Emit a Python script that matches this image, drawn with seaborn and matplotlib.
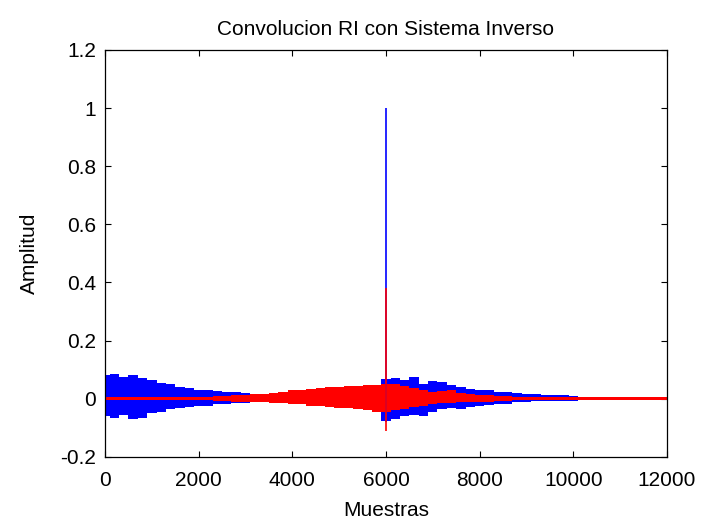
import numpy as np
import matplotlib
matplotlib.use("Agg")
import matplotlib.pyplot as plt
import seaborn as sns

# envelope of each signal, read every 200 samples (0 .. 12000)
samples = np.arange(0, 12001, 200)

blue_hi = [0.080, 0.085, 0.075, 0.080, 0.070, 0.065, 0.055, 0.050, 0.040, 0.038,
           0.030, 0.028, 0.026, 0.024, 0.022, 0.020, 0.016, 0.015, 0.018, 0.012,
           0.014, 0.012, 0.013, 0.012, 0.014, 0.012, 0.013, 0.014, 0.015, 0.020,
           0.068, 0.070, 0.065, 0.076, 0.050, 0.060, 0.058, 0.047, 0.040, 0.033,
           0.030, 0.028, 0.024, 0.024, 0.020, 0.016, 0.015, 0.012, 0.012, 0.011,
           0.010, 0.005, 0.004, 0.004, 0.003, 0.003, 0.003, 0.003, 0.003, 0.003,
           0.003]
blue_lo = [-0.060, -0.065, -0.055, -0.070, -0.065, -0.050, -0.045, -0.036, -0.033, -0.030,
           -0.025, -0.024, -0.020, -0.018, -0.016, -0.015, -0.012, -0.013, -0.012, -0.010,
           -0.011, -0.010, -0.011, -0.010, -0.012, -0.011, -0.012, -0.012, -0.013, -0.015,
           -0.076, -0.070, -0.060, -0.056, -0.059, -0.045, -0.036, -0.033, -0.035, -0.030,
           -0.025, -0.022, -0.018, -0.017, -0.013, -0.010, -0.009, -0.009, -0.008, -0.009,
           -0.008, -0.004, -0.003, -0.003, -0.003, -0.003, -0.003, -0.003, -0.003, -0.003,
           -0.003]
red_hi = [0.007, 0.007, 0.007, 0.007, 0.007, 0.007, 0.007, 0.007, 0.007, 0.007,
          0.007, 0.007, 0.008, 0.010, 0.012, 0.013, 0.015, 0.017, 0.020, 0.022,
          0.028, 0.030, 0.033, 0.035, 0.039, 0.040, 0.043, 0.045, 0.046, 0.047,
          0.050, 0.050, 0.045, 0.035, 0.030, 0.022, 0.025, 0.028, 0.018, 0.016,
          0.014, 0.012, 0.010, 0.008, 0.007, 0.006, 0.005, 0.005, 0.005, 0.005,
          0.005, 0.005, 0.005, 0.005, 0.005, 0.005, 0.005, 0.005, 0.005, 0.005,
          0.005]
red_lo = [-0.006, -0.006, -0.006, -0.006, -0.006, -0.006, -0.006, -0.006, -0.006, -0.006,
          -0.006, -0.006, -0.007, -0.008, -0.010, -0.010, -0.012, -0.013, -0.015, -0.016,
          -0.018, -0.020, -0.024, -0.027, -0.030, -0.032, -0.033, -0.036, -0.040, -0.047,
          -0.045, -0.040, -0.035, -0.030, -0.025, -0.018, -0.016, -0.015, -0.013, -0.012,
          -0.010, -0.010, -0.009, -0.008, -0.006, -0.005, -0.005, -0.005, -0.005, -0.005,
          -0.005, -0.005, -0.005, -0.005, -0.005, -0.005, -0.005, -0.005, -0.005, -0.005,
          -0.005]

# main impulse of each signal
peak_pos = 6000
blue_peak, blue_trough = 1.0, -0.08
red_peak, red_trough = 0.38, -0.11

sns.set_style("ticks")
plt.rcParams['font.family'] = ['Liberation Sans', 'DejaVu Sans']
plt.rcParams.update({
    'xtick.direction': 'in', 'ytick.direction': 'in',
    'text.color': 'black', 'axes.labelcolor': 'black',
    'xtick.color': 'black', 'ytick.color': 'black',
})

fig = plt.figure(figsize=(7.05, 5.25), dpi=100)
ax = fig.add_axes([0.149, 0.130, 0.797, 0.775])

ax.fill_between(samples, blue_lo, blue_hi, step="mid", color="blue", lw=0)
ax.vlines(peak_pos, blue_trough, blue_peak, color="blue", lw=1.2)
ax.fill_between(samples, red_lo, red_hi, step="mid", color="red", lw=0)
ax.vlines(peak_pos - 10, red_trough, red_peak, color="red", lw=1.2)

ax.set_xlim(0, 12000)
ax.set_ylim(-0.2, 1.2)
ax.set_xticks(np.arange(0, 12001, 2000))
ax.set_yticks(np.round(np.arange(-0.2, 1.21, 0.2), 1))
ax.set_yticklabels(["-0.2", "0", "0.2", "0.4", "0.6", "0.8", "1", "1.2"])
ax.tick_params(top=True, right=True, labelsize=15, length=4, width=0.8, color="black")
ax.tick_params(axis="x", pad=10)
ax.tick_params(axis="y", pad=6.5)
for sp in ax.spines.values():
    sp.set_visible(True)
    sp.set_color("black")
    sp.set_linewidth(0.9)

ax.set_title("Convolucion RI con Sistema Inverso", fontsize=15, pad=11)
ax.set_xlabel("Muestras", fontsize=15, labelpad=8)
ax.set_ylabel("Amplitud", fontsize=15, labelpad=15)

fig.savefig("out.png", dpi=100)
